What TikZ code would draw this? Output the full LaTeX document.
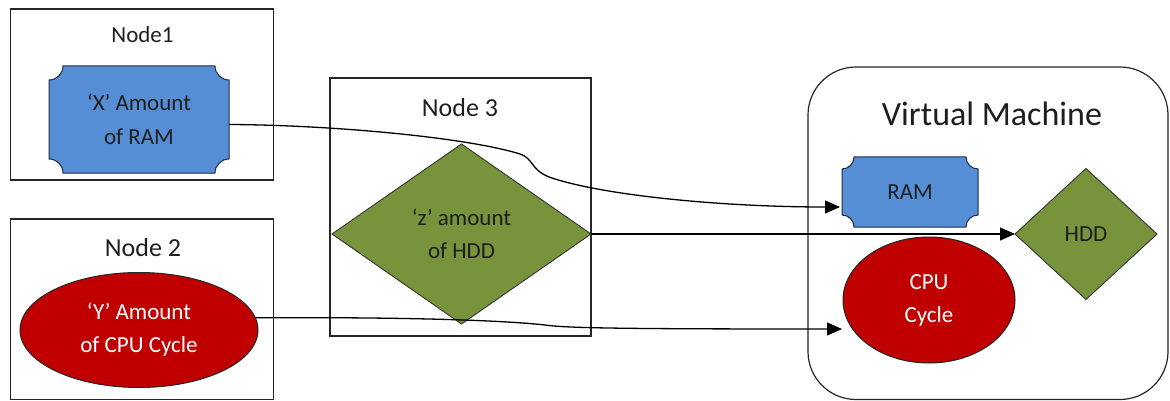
\documentclass[tikz,border=0pt]{standalone}
\usepackage{fontspec}
\setmainfont{Carlito}
\usetikzlibrary{shapes.geometric,arrows.meta,calc}

\pgfdeclarelayer{back}
\pgfsetlayers{back,main}

\definecolor{ramblue}{HTML}{558ED5}
\definecolor{plaqueline}{HTML}{1F2A44}
\definecolor{cpured}{HTML}{C00000}
\definecolor{hddgreen}{HTML}{77933C}
\definecolor{inktext}{HTML}{1E1E1E}

\tikzset{
  container/.style={draw=black!85, line width=1.2pt, fill=none, inner sep=0pt, outer sep=0pt},
  boxtitle/.style={inner sep=0pt, text=inktext, font=\fontsize{26}{30}\selectfont},
  plaquebox/.style={inner sep=0pt, outer sep=0pt, align=center, text=inktext,
    font=\fontsize{23}{34}\selectfont},
  plaquefill/.style={fill=ramblue, draw=plaqueline, line width=1pt},
  cpushape/.style={ellipse, draw=black!85, line width=1pt, fill=cpured, text=white,
    inner sep=0pt, outer sep=0pt, align=center, font=\fontsize{23}{33}\selectfont},
  hddshape/.style={diamond, draw=black!80, line width=0.9pt, fill=hddgreen, text=inktext,
    inner sep=0pt, outer sep=0pt, align=center, font=\fontsize{23}{33}\selectfont},
  link/.style={draw=black, line width=1.3pt, -{Triangle[length=15pt,width=13pt]}},
}

% rectangle with concave (inward) rounded corners, laid over a named node
\newcommand\plaqueoutline[2]{%
  \path[plaquefill]
    ([xshift=#2]#1.north west) -- ([xshift=-#2]#1.north east)
    arc[start angle=180, end angle=270, radius=#2]
    -- ([yshift=#2]#1.south east)
    arc[start angle=90, end angle=180, radius=#2]
    -- ([xshift=#2]#1.south west)
    arc[start angle=0, end angle=90, radius=#2]
    -- ([yshift=-#2]#1.north west)
    arc[start angle=270, end angle=360, radius=#2]
    -- cycle;}

\begin{document}
\begin{tikzpicture}[x=1pt, y=-1pt]
  \useasboundingbox (0,0) rectangle (1170,401);

  % host containers
  \node[container, minimum width=263pt, minimum height=171pt] (node1box) at (142,94.5) {};
  \node[container, minimum width=263pt, minimum height=180.5pt] (node2box) at (142,309.25) {};
  \node[container, minimum width=261pt, minimum height=258pt] (node3box) at (460.5,207) {};
  \node[container, rounded corners=48pt, minimum width=360pt, minimum height=332.5pt] (vmbox) at (988,233.25) {};

  % container titles
  \node[boxtitle, font=\fontsize{23}{28}\selectfont] (t1) at (142.5,35) {Node1};
  \node[boxtitle] (t2) at (143,248) {Node 2};
  \node[boxtitle] (t3) at (460,108) {Node 3};
  \node[boxtitle, font=\fontsize{34}{40}\selectfont] (tvm) at (992,114) {Virtual Machine};

  % resources offered by the hosts
  \node[plaquebox, minimum width=180pt, minimum height=107pt] (xram) at (139,119.5) {‘X’ Amount\\of RAM};
  \node[cpushape, minimum width=238pt, minimum height=115pt] (ycpu) at (139,330) {‘Y’ Amount\\of CPU Cycle};
  \node[hddshape, minimum width=259pt, minimum height=180pt] (zhdd) at (461.5,234) {‘z’ amount\\of HDD};

  % resources of the virtual machine
  \node[plaquebox, minimum width=136pt, minimum height=70pt] (ram) at (910,192) {RAM};
  \node[hddshape, minimum width=142pt, minimum height=131pt] (hdd) at (1086,234) {HDD};
  \node[cpushape, minimum width=172pt, minimum height=126pt] (cpu) at (929,300) {CPU\\Cycle};

  \begin{pgfonlayer}{back}
    \plaqueoutline{xram}{14pt}
    \plaqueoutline{ram}{12pt}
  \end{pgfonlayer}

  % allocation links
  \coordinate (ramin) at ([xshift=-2pt,yshift=-15pt]ram.west);
  \coordinate (cpuin) at ([xshift=-1pt,yshift=-29pt]cpu.west);

  \draw[link] ([yshift=-5pt]xram.east)
    .. controls (330,125) and (465,137) .. (520,154)
    .. controls (534,159) and (530,169) .. (549,177)
    .. controls (600,195) and (720,207) .. (ramin);
  \draw[link] (zhdd.east) -- (hdd.west);
  \draw[link] (ycpu.6)
    .. controls (400,317) and (500,320) .. (545,325)
    .. controls (565,328) and (620,329) .. (cpuin);
\end{tikzpicture}
\end{document}
